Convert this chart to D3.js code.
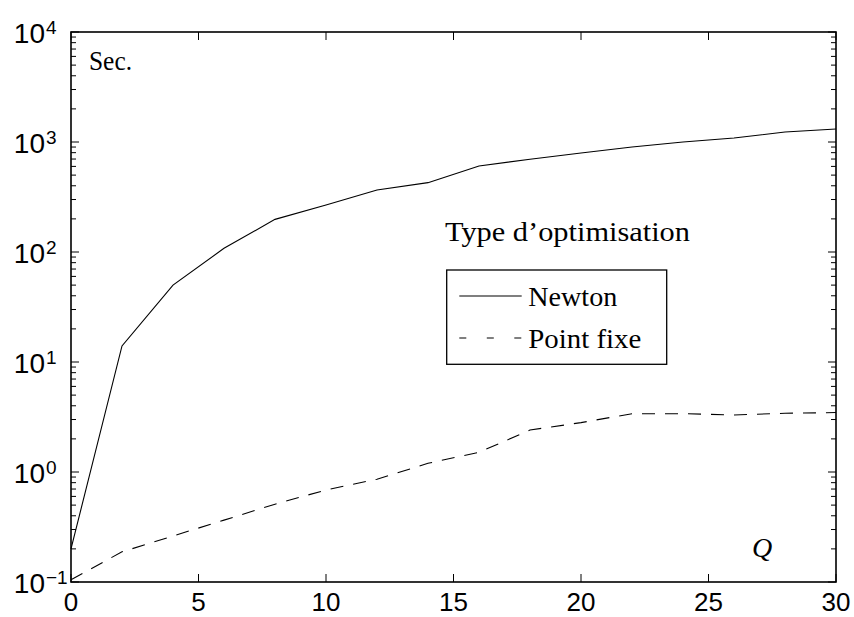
<!DOCTYPE html>
<html>
<head>
<meta charset="utf-8">
<script src="https://cdn.jsdelivr.net/npm/d3@7"></script>
<style>
  html, body { margin: 0; padding: 0; background: #fff; }
  svg { display: block; }
</style>
</head>
<body>
<svg id="chart" width="854" height="617"></svg>
<script>
// ---- data ----
const qValues = [0, 2, 4, 6, 8, 10, 12, 14, 16, 18, 20, 22, 24, 26, 28, 30];
const newton = [0.2, 14, 50, 108, 198, 267, 366, 427, 605, 697, 794, 901, 1000, 1087, 1233, 1313];
const pointFixe = [0.105, 0.188, 0.262, 0.365, 0.51, 0.686, 0.86, 1.2, 1.51, 2.41, 2.81, 3.39, 3.39, 3.30, 3.42, 3.47];
const xTicks = [0, 5, 10, 15, 20, 25, 30];
const yExponents = [-1, 0, 1, 2, 3, 4];
const seriesNames = ["Newton", "Point fixe"];
const legendTitle = "Type d\u2019optimisation";
const yLabel = "Sec.";
const xLabel = "Q";

// ---- layout ----
const L = 71, R = 836, T = 32, B = 582;
const svg = d3.select("#chart");
const x = d3.scaleLinear().domain([0, 30]).range([L, R]);
const y = d3.scaleLog().domain([0.1, 10000]).range([B, T]);

const tickFont = "'Liberation Sans', Arial, Helvetica, sans-serif";
const serif = "'Liberation Serif', 'Times New Roman', serif";

// minor log ticks
const minor = [];
for (let e = -1; e < 4; e++) for (let m = 2; m <= 9; m++) minor.push(m * Math.pow(10, e));

const g = svg.append("g");
// y ticks (both sides, inward)
g.selectAll("line.ymin").data(minor).join("line")
  .attr("x1", L).attr("x2", L + 5).attr("y1", d => y(d)).attr("y2", d => y(d))
  .attr("stroke", "#000").attr("stroke-width", 1);
g.selectAll("line.ymin2").data(minor).join("line")
  .attr("x1", R).attr("x2", R - 5).attr("y1", d => y(d)).attr("y2", d => y(d))
  .attr("stroke", "#000").attr("stroke-width", 1);
const majors = yExponents.map(e => Math.pow(10, e));
g.selectAll("line.ymaj").data(majors).join("line")
  .attr("x1", L).attr("x2", L + 8).attr("y1", d => y(d)).attr("y2", d => y(d))
  .attr("stroke", "#000").attr("stroke-width", 1);
g.selectAll("line.ymaj2").data(majors).join("line")
  .attr("x1", R).attr("x2", R - 8).attr("y1", d => y(d)).attr("y2", d => y(d))
  .attr("stroke", "#000").attr("stroke-width", 1);
// x ticks
g.selectAll("line.xb").data(xTicks).join("line")
  .attr("x1", d => x(d)).attr("x2", d => x(d)).attr("y1", B).attr("y2", B - 8)
  .attr("stroke", "#000").attr("stroke-width", 1);
g.selectAll("line.xt").data(xTicks).join("line")
  .attr("x1", d => x(d)).attr("x2", d => x(d)).attr("y1", T).attr("y2", T + 8)
  .attr("stroke", "#000").attr("stroke-width", 1);

// x tick labels
g.selectAll("text.xl").data(xTicks).join("text")
  .attr("x", d => x(d)).attr("y", 611)
  .attr("text-anchor", "middle")
  .attr("font-family", tickFont).attr("font-size", 26)
  .text(d => d);

// y tick labels
g.selectAll("text.yl").data(yExponents).join("text")
  .attr("x", 45).attr("y", d => y(Math.pow(10, d)) + 10.5)
  .attr("font-family", tickFont).attr("font-size", 28)
  .attr("text-anchor", "end")
  .text("10");
g.selectAll("text.ye").data(yExponents).join("text")
  .attr("x", 46).attr("y", d => y(Math.pow(10, d)) + 1.5)
  .attr("font-family", tickFont).attr("font-size", 19)
  .attr("text-anchor", "start")
  .text(d => d < 0 ? "\u2212" + Math.abs(d) : String(d));

// lines
const line = d3.line().x((d, i) => x(qValues[i])).y(d => y(d));
svg.append("path").datum(newton).attr("d", line)
  .attr("fill", "none").attr("stroke", "#000").attr("stroke-width", 1.1);
svg.append("path").datum(pointFixe).attr("d", line)
  .attr("fill", "none").attr("stroke", "#000").attr("stroke-width", 1.1)
  .attr("stroke-dasharray", "13,10");

// axes box
svg.append("rect").attr("x", L).attr("y", T).attr("width", R - L).attr("height", B - T)
  .attr("fill", "none").attr("stroke", "#000").attr("stroke-width", 1.6);

// annotations
svg.append("text").attr("x", 89).attr("y", 69.5)
  .attr("font-family", serif).attr("font-size", 27)
  .attr("textLength", 43).attr("lengthAdjust", "spacingAndGlyphs")
  .text(yLabel);
svg.append("text").attr("x", 752).attr("y", 557)
  .attr("font-family", serif).attr("font-size", 28).attr("font-style", "italic")
  .text(xLabel);

// legend
svg.append("text").attr("x", 445).attr("y", 241)
  .attr("font-family", serif).attr("font-size", 27)
  .attr("textLength", 245).attr("lengthAdjust", "spacingAndGlyphs")
  .text(legendTitle);
svg.append("rect").attr("x", 446.7).attr("y", 270).attr("width", 220).attr("height", 94.3)
  .attr("fill", "#fff").attr("stroke", "#000").attr("stroke-width", 1.3);
const legY = [296, 338];
const legDash = [null, "7,20.5"];
const legLen = [89, 113];
seriesNames.forEach((name, i) => {
  svg.append("line").attr("x1", 459.3).attr("x2", 521.7).attr("y1", legY[i]).attr("y2", legY[i])
    .attr("stroke", "#000").attr("stroke-width", 1.1)
    .attr("stroke-dasharray", legDash[i]);
  svg.append("text").attr("x", 528.3).attr("y", legY[i] + 9.5)
    .attr("font-family", serif).attr("font-size", 27)
    .attr("textLength", legLen[i]).attr("lengthAdjust", "spacingAndGlyphs")
    .text(name);
});
</script>
</body>
</html>
